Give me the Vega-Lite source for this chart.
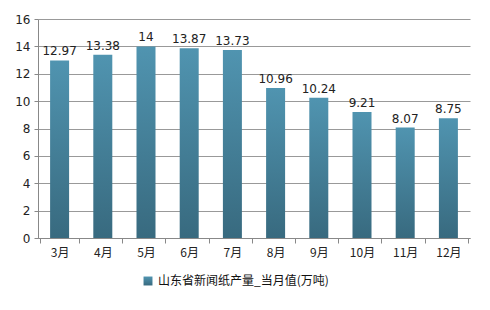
{
  "$schema": "https://vega.github.io/schema/vega-lite/v6.json",
  "autosize": "none",
  "width": 432,
  "height": 219,
  "padding": {"left": 38, "top": 19, "right": 20, "bottom": 72},
  "background": "white",
  "config": {"view": {"stroke": null}, "font": "Noto Sans CJK SC"},
  "data": {"values": [
    {"month": "3月", "value": 12.97, "series": "山东省新闻纸产量_当月值(万吨)"},
    {"month": "4月", "value": 13.38, "series": "山东省新闻纸产量_当月值(万吨)"},
    {"month": "5月", "value": 14, "series": "山东省新闻纸产量_当月值(万吨)"},
    {"month": "6月", "value": 13.87, "series": "山东省新闻纸产量_当月值(万吨)"},
    {"month": "7月", "value": 13.73, "series": "山东省新闻纸产量_当月值(万吨)"},
    {"month": "8月", "value": 10.96, "series": "山东省新闻纸产量_当月值(万吨)"},
    {"month": "9月", "value": 10.24, "series": "山东省新闻纸产量_当月值(万吨)"},
    {"month": "10月", "value": 9.21, "series": "山东省新闻纸产量_当月值(万吨)"},
    {"month": "11月", "value": 8.07, "series": "山东省新闻纸产量_当月值(万吨)"},
    {"month": "12月", "value": 8.75, "series": "山东省新闻纸产量_当月值(万吨)"}
  ]},
  "encoding": {
    "x": {"field": "month", "type": "nominal", "sort": null,
      "axis": {"title": null, "labelAngle": 0, "labelFontSize": 12, "labelColor": "#222", "labelFont": "Noto Sans CJK SC",
        "domainColor": "#888", "tickColor": "#888", "tickBand": "extent", "tickSize": 5, "labelPadding": 4}},
    "y": {"field": "value", "type": "quantitative", "scale": {"domain": [0, 16]},
      "axis": {"title": null, "values": [0,2,4,6,8,10,12,14,16], "labelOverlap": false, "labelFontSize": 12, "labelColor": "#222", "labelFont": "DejaVu Sans",
        "domain": true, "domainColor": "#888", "ticks": true, "tickColor": "#888", "tickSize": 4, "gridColor": "#999", "gridWidth": 1, "labelPadding": 4}}
  },
  "layer": [
    {
      "mark": {"type": "bar", "size": 19,
        "color": {"gradient": "linear", "x1": 0, "y1": 0, "x2": 0, "y2": 1,
          "stops": [{"offset": 0, "color": "#5094b0"}, {"offset": 1, "color": "#386a7f"}]}},
      "encoding": {
        "opacity": {"field": "series", "type": "nominal",
          "scale": {"range": [1]},
          "legend": {"title": null, "orient": "none", "legendX": 104, "legendY": 256, "symbolType": "square", "symbolSize": 80,
            "symbolFillColor": "#4a86a0", "symbolStrokeColor": "#4a86a0", "symbolStrokeWidth": 0,
            "labelFontSize": 12, "labelColor": "#111", "labelFont": "Noto Sans CJK SC", "labelLimit": 400}}
      }
    },
    {
      "mark": {"type": "text", "dy": -9, "fontSize": 12, "color": "#222", "font": "DejaVu Sans"},
      "encoding": {"text": {"field": "value", "type": "quantitative"}}
    }
  ]
}
